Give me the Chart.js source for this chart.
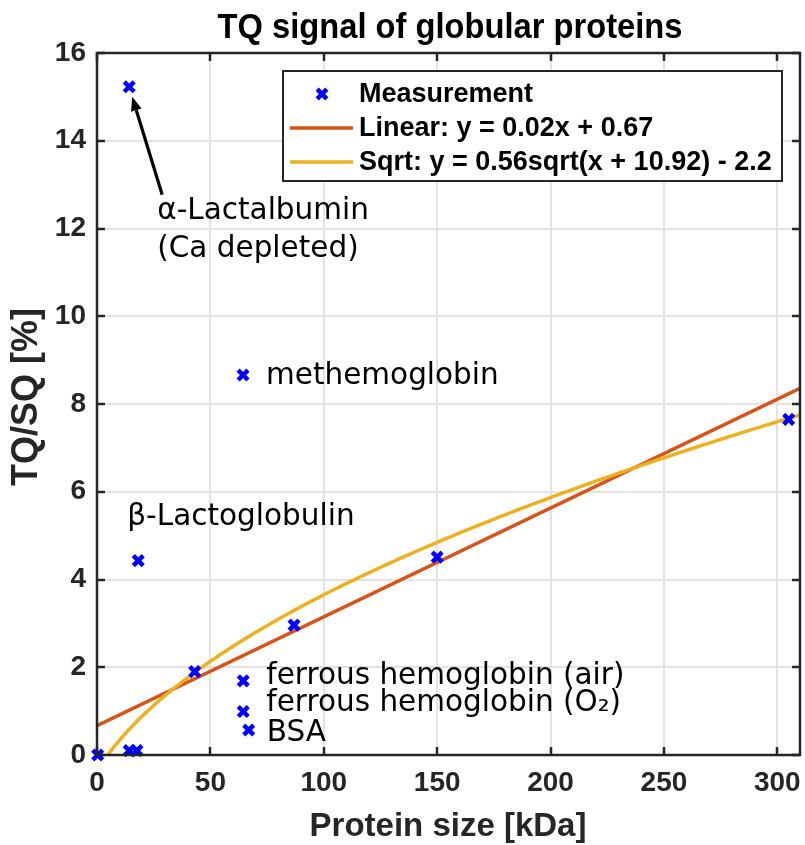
<!DOCTYPE html>
<html>
<head>
<meta charset="utf-8">
<script src="https://cdn.jsdelivr.net/npm/chart.js@4/dist/chart.umd.min.js"></script>
<style>
  html, body { margin: 0; padding: 0; background: #ffffff; }
  #wrap { width: 805px; height: 845px; }
</style>
</head>
<body>
<div id="wrap"><canvas id="chart" width="805" height="845"></canvas></div>
<script>
// Measured proteins: molecular size [kDa] and TQ/SQ ratio [%]
const proteinSize = [0.3, 14.2, 17.6, 14.2, 18.2, 43.1, 64.4, 64.5, 64.5, 66.9, 86.9, 150.0, 305.0];
const tqSignal    = [0.0, 0.10, 0.10, 15.23, 4.43, 1.90, 8.66, 1.69, 0.99, 0.57, 2.96, 4.51, 7.65];

// Fit coefficients (legend shows them rounded)
const linearFit = [0.0248, 0.67];          // y = a*x + b
const sqrtFit   = [0.5555, 10.92, -2.2];   // y = a*sqrt(x + b) + c

// Axis ranges and tick values
const xRange = [0, 310];
const yRange = [0, 16];
const xTicks = [0, 50, 100, 150, 200, 250, 300];
const yTicks = [0, 2, 4, 6, 8, 10, 12, 14, 16];

// Names written next to individual measurements
const pointNames = [
  { index: 3,  lines: ['α-Lactalbumin', '(Ca depleted)'] },
  { index: 6,  lines: ['methemoglobin'] },
  { index: 4,  lines: ['β-Lactoglobulin'] },
  { index: 7,  lines: ['ferrous hemoglobin (air)'] },
  { index: 8,  lines: ['ferrous hemoglobin (O₂)'] },
  { index: 9,  lines: ['BSA'] }
];
const legendLabels = ['Measurement', 'Linear: y = 0.02x + 0.67', 'Sqrt: y = 0.56sqrt(x + 10.92) - 2.2'];

// Label placement relative to the marker, in pixels
const nameOffsets = [[28, 125], [23, 1], [-11, -43], [23, -5], [23, -8], [18, 3]];
const arrowOffsets = { from: [33, 108], to: [3, 10] };

const BLUE = '#0000ff', RED = '#d95319', YELLOW = '#edb120', INK = '#262626';

const scatterPts = proteinSize.map((x, i) => ({ x: x, y: tqSignal[i] }));
const linePts = xRange.map(x => ({ x: x, y: linearFit[0] * x + linearFit[1] }));
const sqrtStart = Math.pow(-sqrtFit[2] / sqrtFit[0], 2) - sqrtFit[1];
const sqrtPts = [];
for (let k = 0; k <= 200; k++) {
  const x = sqrtStart + (xRange[1] - sqrtStart) * k / 200;
  sqrtPts.push({ x: x, y: sqrtFit[0] * Math.sqrt(x + sqrtFit[1]) + sqrtFit[2] });
}

function drawCross(ctx, x, y) {
  const r = 4.8;
  ctx.save();
  ctx.strokeStyle = BLUE; ctx.lineWidth = 4.5; ctx.lineCap = 'butt';
  ctx.beginPath();
  ctx.moveTo(x - r, y - r); ctx.lineTo(x + r, y + r);
  ctx.moveTo(x - r, y + r); ctx.lineTo(x + r, y - r);
  ctx.stroke();
  ctx.restore();
}

const decorations = {
  id: 'decorations',
  afterDatasetsDraw(chart) {
    const { ctx, chartArea: a, scales } = chart;
    const sx = scales.x, sy = scales.y;
    ctx.save();

    // box and inward ticks
    ctx.strokeStyle = INK; ctx.lineWidth = 2.5;
    ctx.strokeRect(a.left, a.top, a.right - a.left, a.bottom - a.top);
    const tl = 8;
    ctx.beginPath();
    xTicks.forEach(v => {
      const p = Math.round(sx.getPixelForValue(v));
      ctx.moveTo(p, a.bottom); ctx.lineTo(p, a.bottom - tl);
      ctx.moveTo(p, a.top); ctx.lineTo(p, a.top + tl);
    });
    yTicks.forEach(v => {
      const p = Math.round(sy.getPixelForValue(v));
      ctx.moveTo(a.left, p); ctx.lineTo(a.left + tl, p);
      ctx.moveTo(a.right, p); ctx.lineTo(a.right - tl, p);
    });
    ctx.stroke();

    // protein names
    ctx.fillStyle = '#000000';
    ctx.font = '29.5px "DejaVu Sans"';
    ctx.textAlign = 'left'; ctx.textBaseline = 'middle';
    pointNames.forEach((n, k) => {
      const px = sx.getPixelForValue(proteinSize[n.index]);
      const py = sy.getPixelForValue(tqSignal[n.index]);
      n.lines.forEach((t, j) => {
        ctx.fillText(t, px + nameOffsets[k][0], py + nameOffsets[k][1] + j * 38);
      });
    });

    // arrow to the Ca depleted α-Lactalbumin point
    const ax = sx.getPixelForValue(proteinSize[3]), ay = sy.getPixelForValue(tqSignal[3]);
    const x0 = ax + arrowOffsets.from[0], y0 = ay + arrowOffsets.from[1];
    const x1 = ax + arrowOffsets.to[0], y1 = ay + arrowOffsets.to[1];
    const ang = Math.atan2(y1 - y0, x1 - x0);
    const hl = 14, hw = 5.5;
    const bx = x1 - hl * Math.cos(ang), by = y1 - hl * Math.sin(ang);
    ctx.strokeStyle = '#000000'; ctx.lineWidth = 3.2;
    ctx.beginPath(); ctx.moveTo(x0, y0); ctx.lineTo(bx, by); ctx.stroke();
    ctx.fillStyle = '#000000';
    ctx.beginPath();
    ctx.moveTo(x1, y1);
    ctx.lineTo(bx + hw * Math.sin(ang), by - hw * Math.cos(ang));
    ctx.lineTo(bx - hw * Math.sin(ang), by + hw * Math.cos(ang));
    ctx.closePath(); ctx.fill();

    // legend box
    const L = { left: 283, top: 71, right: 782, bottom: 181 };
    ctx.fillStyle = '#ffffff';
    ctx.fillRect(L.left, L.top, L.right - L.left, L.bottom - L.top);
    ctx.strokeStyle = INK; ctx.lineWidth = 2;
    ctx.strokeRect(L.left, L.top, L.right - L.left, L.bottom - L.top);
    const rows = [94, 128, 162];
    drawCross(ctx, 322, rows[0]);
    ctx.lineWidth = 3.5;
    ctx.strokeStyle = RED;
    ctx.beginPath(); ctx.moveTo(290, rows[1]); ctx.lineTo(353, rows[1]); ctx.stroke();
    ctx.strokeStyle = YELLOW;
    ctx.beginPath(); ctx.moveTo(290, rows[2]); ctx.lineTo(353, rows[2]); ctx.stroke();
    ctx.fillStyle = '#000000';
    ctx.font = 'bold 27px "Liberation Sans"';
    ctx.textAlign = 'left'; ctx.textBaseline = 'middle';
    legendLabels.forEach((t, i) => ctx.fillText(t, 359, rows[i] + 1));

    // title (condensed bold)
    const title = 'TQ signal of globular proteins';
    ctx.font = 'bold 35px "Liberation Sans"';
    const w = ctx.measureText(title).width;
    const target = 465;
    ctx.save();
    ctx.translate(450, 28);
    ctx.scale(target / w, 1);
    ctx.textAlign = 'center'; ctx.textBaseline = 'middle';
    ctx.fillStyle = '#000000';
    ctx.fillText(title, 0, 0);
    ctx.restore();

    // axis titles
    ctx.fillStyle = INK;
    ctx.textAlign = 'center'; ctx.textBaseline = 'middle';
    ctx.font = 'bold 33px "Liberation Sans"';
    ctx.fillText('Protein size [kDa]', 448, 827);
    ctx.font = 'bold 36px "Liberation Sans"';
    ctx.save();
    ctx.translate(27, 397);
    ctx.rotate(-Math.PI / 2);
    ctx.fillText('TQ/SQ [%]', 0, 0);
    ctx.restore();

    ctx.restore();
  }
};

new Chart(document.getElementById('chart'), {
  type: 'scatter',
  data: {
    datasets: [
      {
        label: legendLabels[1], data: linePts, showLine: true,
        borderColor: RED, borderWidth: 3.5, pointRadius: 0, order: 2
      },
      {
        label: legendLabels[2], data: sqrtPts, showLine: true,
        borderColor: YELLOW, borderWidth: 3.5, pointRadius: 0, order: 1
      },
      {
        label: legendLabels[0], data: scatterPts, showLine: false, clip: false,
        pointStyle: 'crossRot', pointRadius: 7, borderWidth: 4.5,
        borderColor: BLUE, backgroundColor: BLUE, order: 0
      }
    ]
  },
  options: {
    responsive: false,
    animation: false,
    events: [],
    layout: { autoPadding: false, padding: { top: 53, right: 5, left: 0, bottom: 0 } },
    plugins: { legend: { display: false }, title: { display: false }, tooltip: { enabled: false } },
    scales: {
      x: {
        type: 'linear', position: 'bottom', min: xRange[0], max: xRange[1],
        afterBuildTicks: s => { s.ticks = xTicks.map(v => ({ value: v })); },
        afterFit: s => { s.height = 90; s.paddingLeft = 0; s.paddingRight = 0; },
        grid: { color: '#e3e3e3', lineWidth: 2, drawTicks: false },
        border: { display: false },
        ticks: { padding: 11, color: INK, font: { family: 'Liberation Sans', weight: 'bold', size: 28 }, maxRotation: 0 }
      },
      y: {
        type: 'linear', min: yRange[0], max: yRange[1],
        afterBuildTicks: s => { s.ticks = yTicks.map(v => ({ value: v })); },
        afterFit: s => { s.width = 97; s.paddingTop = 0; s.paddingBottom = 0; },
        grid: { color: '#e3e3e3', lineWidth: 2, drawTicks: false },
        border: { display: false },
        ticks: { padding: 11, color: INK, font: { family: 'Liberation Sans', weight: 'bold', size: 28 } }
      }
    }
  },
  plugins: [decorations]
});
</script>
</body>
</html>
